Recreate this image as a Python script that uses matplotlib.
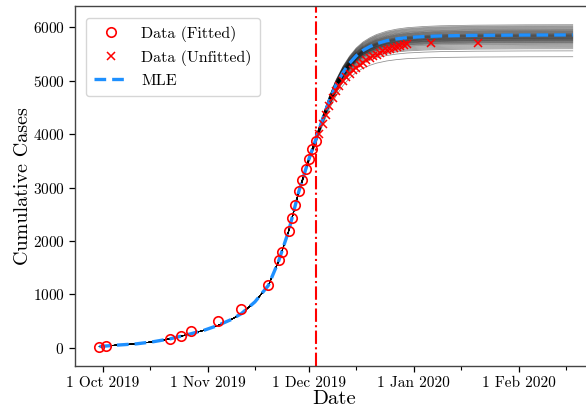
import numpy as np
import matplotlib
matplotlib.use("Agg")
import matplotlib.pyplot as plt
import matplotlib.dates as mdates
from matplotlib.ticker import FuncFormatter
import datetime as dt

plt.rcParams['font.family'] = ['cmr10', 'DejaVu Serif']
plt.rcParams['mathtext.fontset'] = 'cm'
plt.rcParams['axes.formatter.use_mathtext'] = True

origin = dt.datetime(2019, 10, 1)

# Fitted data (days since 1 Oct 2019, cumulative cases)
fit_days = [-1, 1, 20, 23, 26, 34, 41, 49, 52, 53, 55, 56, 57, 58, 59, 60, 61, 62, 63]
fit_vals = [20, 35, 160, 215, 310, 510, 720, 1170, 1640, 1790, 2190, 2440, 2680, 2940,
            3140, 3345, 3530, 3720, 3880]

# Unfitted data
unfit_days = list(range(64, 91)) + [97, 111]
unfit_vals = [4010, 4190, 4360, 4520, 4670, 4800, 4910, 4995, 5065, 5135, 5195, 5245,
              5295, 5340, 5380, 5420, 5455, 5490, 5520, 5550, 5575, 5600, 5620, 5640,
              5660, 5675, 5690, 5700, 5705]

# MLE curve
mle_days = [-1, 4, 10, 15, 20, 26, 30, 34, 38, 41, 45, 49, 52, 55, 58, 61, 63, 65, 67, 69,
            71, 73, 75, 77, 79, 81, 84, 87, 90, 95, 100, 110, 125, 139]
mle_vals = [25, 50, 75, 115, 170, 262, 330, 418, 530, 640, 860, 1170, 1620, 2190, 2930,
            3540, 3900, 4280, 4630, 4920, 5150, 5330, 5470, 5570, 5640, 5695, 5750, 5785,
            5808, 5828, 5840, 5850, 5856, 5858]

# Final sizes of posterior sample curves
sample_K = [5450, 5560, 5600, 5620, 5640, 5660, 5680, 5695, 5710, 5720, 5730, 5740,
            5750, 5758, 5765, 5772, 5780, 5788, 5795, 5800, 5808, 5815, 5822, 5830,
            5836, 5842, 5850, 5856, 5862, 5870, 5878, 5885, 5895, 5905, 5915, 5925,
            5935, 5945, 5958, 5970, 5985, 6000, 6015, 6030, 6050]

line_day = 63

fig = plt.figure(figsize=(5.86, 4.11), dpi=100)
ax = fig.add_axes([0.128, 0.1095, 0.884, 0.8759])

def todate(days):
    return [origin + dt.timedelta(days=float(d)) for d in days]

mle_arr = np.array(mle_vals, dtype=float)
Kmle = mle_arr[-1]
w = (mle_arr / Kmle) ** 3
for K in sample_K:
    ys = mle_arr * (1 + (K / Kmle - 1) * w)
    ax.plot(todate(mle_days), ys, color='black', lw=0.55, alpha=0.45, zorder=1)

ax.plot(todate(mle_days), mle_vals, color='#1E90FF', lw=2.4, ls=(0, (3.5, 1.8)),
        label='MLE', zorder=3)
ax.plot(todate(fit_days), fit_vals, 'o', mfc='none', mec='red', ms=6.8, mew=1.2,
        label='Data (Fitted)', zorder=4)
ax.plot(todate(unfit_days), unfit_vals, 'x', color='red', ms=5.5, mew=1.1,
        label='Data (Unfitted)', zorder=4)
ax.axvline(todate([line_day])[0], color='red', ls='-.', lw=1.5, zorder=2)

ax.set_xlim(todate([-8.2])[0], todate([145])[0])
ax.set_ylim(-340, 6400)

ax.xaxis.set_major_locator(mdates.MonthLocator(bymonthday=1))
ax.xaxis.set_minor_locator(mdates.MonthLocator(bymonthday=15))
ax.xaxis.set_major_formatter(FuncFormatter(
    lambda x, pos: (lambda d: f"{d.day} {d:%b %Y}")(mdates.num2date(x))))
ax.set_yticks([0, 1000, 2000, 3000, 4000, 5000, 6000])
ax.tick_params(axis='both', which='major', labelsize=11, length=4, width=0.9)
ax.tick_params(axis='x', which='minor', length=3, width=0.8)
for s in ax.spines.values():
    s.set_color('#444444')
    s.set_linewidth(1.0)

ax.set_xlabel('Date', fontsize=15, labelpad=0)
ax.set_ylabel('Cumulative Cases', fontsize=14.5, labelpad=0.5)

h, l = ax.get_legend_handles_labels()
order = [1, 2, 0]
ax.legend([h[i] for i in order], [l[i] for i in order], loc='upper left',
          fontsize=11.5, frameon=True, edgecolor='#cccccc', fancybox=True,
          borderpad=0.5, handlelength=2.2, bbox_to_anchor=(0.005, 0.99))

fig.savefig('out.png', dpi=100)
